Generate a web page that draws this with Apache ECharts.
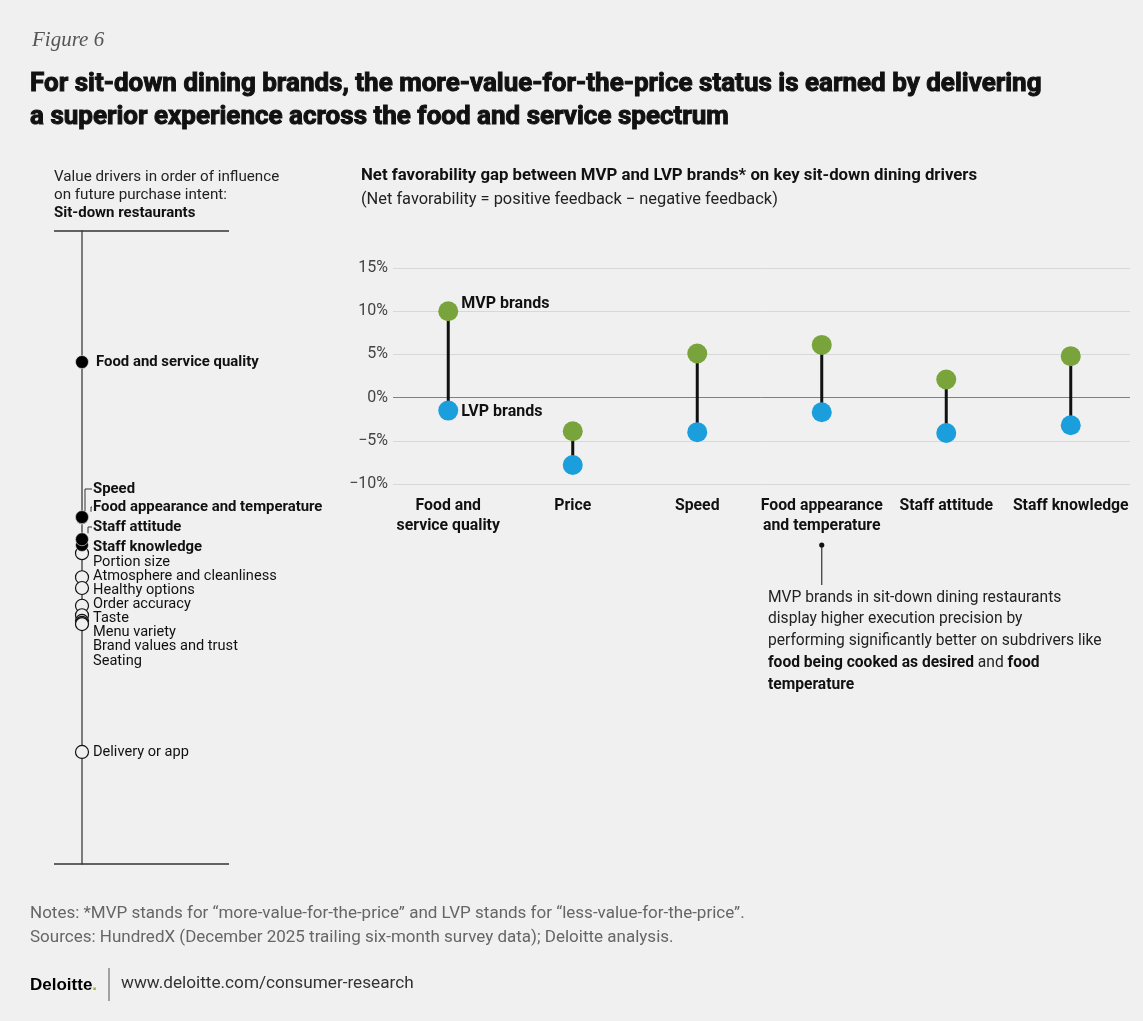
<!DOCTYPE html>
<html>
<head>
<meta charset="utf-8">
<script src="https://cdn.jsdelivr.net/npm/echarts@6/dist/echarts.min.js"></script>
<style>
  html, body { margin: 0; padding: 0; background: #f0f0f0; }
  #chart { width: 1143px; height: 1021px; }
</style>
</head>
<body>
<div id="chart"></div>
<script>
// Dumbbell categories and values (net favorability, %)
const categories = ['Food and\nservice quality', 'Price', 'Speed', 'Food appearance\nand temperature', 'Staff attitude', 'Staff knowledge'];
const mvpValues = [10.0, -3.9, 5.1, 6.1, 2.1, 4.8];
const lvpValues = [-1.5, -7.8, -4.0, -1.7, -4.1, -3.2];
const yTickLabels = ['\u221210%', '\u22125%', '0%', '5%', '10%', '15%'];

// Value drivers ranked by influence on future purchase intent
const drivers = ['Food and service quality', 'Speed', 'Food appearance and temperature', 'Staff attitude', 'Staff knowledge',
  'Portion size', 'Atmosphere and cleanliness', 'Healthy options', 'Order accuracy', 'Taste', 'Menu variety',
  'Brand values and trust', 'Seating', 'Delivery or app'];
const influence = [79.3, 54.8, 54.7, 51.3, 50.4, 49.1, 45.3, 43.6, 40.8, 39.3, 38.4, 38.1, 37.9, 17.7];

const FONT = "'Roboto', 'Liberation Sans', sans-serif";
const GREEN = '#79a43b';
const BLUE = '#1a9fdc';
const BG = '#f0f0f0';

const keyNames = categories.map(c => c.replace('\n', ' '));
const isKey = drivers.map(d => keyNames.indexOf(d) >= 0);

const chart = echarts.init(document.getElementById('chart'), null, { renderer: 'canvas' });

chart.setOption({
  backgroundColor: BG,
  animation: false,
  grid: [
    { left: 393, right: 13, top: 268, height: 216 },
    { left: 386, right: 10, top: 268, height: 216 },
    { left: 82, width: 100, top: 231, height: 633 }
  ],
  xAxis: [
    { gridIndex: 0, type: 'value', min: 0, max: 1, show: false },
    {
      gridIndex: 1, type: 'category', data: categories,
      axisLine: { show: false }, axisTick: { show: false },
      axisLabel: { interval: 0, margin: 12, fontFamily: FONT, fontWeight: 'bold', fontSize: 15.8, color: '#111', lineHeight: 20 }
    },
    { gridIndex: 2, type: 'value', min: 0, max: 1, show: false }
  ],
  yAxis: [
    {
      gridIndex: 0, type: 'value', min: -10, max: 15, interval: 5,
      axisLine: { show: false }, axisTick: { show: false },
      axisLabel: {
        margin: 5, fontFamily: FONT, fontSize: 16, color: '#444',
        formatter: (v) => yTickLabels[Math.round((v + 10) / 5)]
      },
      splitLine: { lineStyle: { color: ['#d8d8d8', '#d8d8d8', '#808080', '#d8d8d8', '#d8d8d8', '#d8d8d8'], width: 1 } }
    },
    { gridIndex: 1, type: 'value', min: -10, max: 15, interval: 5, show: false },
    {
      gridIndex: 2, type: 'value', min: 0, max: 100,
      axisLine: { show: true, lineStyle: { color: '#555', width: 1.5 } },
      axisTick: { show: false }, axisLabel: { show: false }, splitLine: { show: false }
    }
  ],
  series: [
    {
      type: 'custom', xAxisIndex: 1, yAxisIndex: 1, z: 2,
      data: categories.map((c, i) => [i, mvpValues[i], lvpValues[i]]),
      encode: { x: 0, y: [1, 2] },
      renderItem: (params, api) => {
        const a = api.coord([api.value(0), api.value(1)]);
        const b = api.coord([api.value(0), api.value(2)]);
        return { type: 'line', shape: { x1: a[0], y1: a[1], x2: b[0], y2: b[1] }, style: { stroke: '#111', lineWidth: 3 } };
      }
    },
    {
      name: 'MVP brands', type: 'scatter', xAxisIndex: 1, yAxisIndex: 1, z: 3,
      symbolSize: 20, itemStyle: { color: GREEN, opacity: 1 },
      data: mvpValues.map((v, i) => ({
        value: v,
        label: i === 0 ? { show: true, position: 'right', distance: 3, offset: [0, -7], formatter: 'MVP brands',
          fontFamily: FONT, fontWeight: 'bold', fontSize: 16, color: '#111' } : { show: false }
      }))
    },
    {
      name: 'LVP brands', type: 'scatter', xAxisIndex: 1, yAxisIndex: 1, z: 3,
      symbolSize: 20, itemStyle: { color: BLUE, opacity: 1 },
      data: lvpValues.map((v, i) => ({
        value: v,
        label: i === 0 ? { show: true, position: 'right', distance: 3, offset: [0, 1], formatter: 'LVP brands',
          fontFamily: FONT, fontWeight: 'bold', fontSize: 16, color: '#111' } : { show: false }
      }))
    },
    {
      type: 'scatter', xAxisIndex: 2, yAxisIndex: 2, z: 3, symbolSize: 13,
      itemStyle: { color: BG, borderColor: '#111', borderWidth: 1.2, opacity: 1 },
      data: drivers.map((d, i) => isKey[i] ? null : [0, influence[i]]).filter(Boolean)
    },
    {
      type: 'scatter', xAxisIndex: 2, yAxisIndex: 2, z: 4, symbolSize: 13,
      itemStyle: { color: '#000', borderColor: BG, borderWidth: 0.6, opacity: 1 },
      data: drivers.map((d, i) => isKey[i] ? [0, influence[i]] : null).filter(Boolean).reverse()
    }
  ]
});

// ---- Text, rules and annotations ----
function txt(text, x, y, size, opts) {
  opts = opts || {};
  return {
    type: 'text', silent: true, z: 10,
    style: Object.assign({
      text: text, x: x, y: y, fontFamily: FONT, fontSize: size,
      fontWeight: opts.bold ? 'bold' : 'normal', fill: opts.color || '#222',
      textAlign: opts.align || 'left', textVerticalAlign: 'middle'
    }, opts.style || {})
  };
}
function line(x1, y1, x2, y2, color, width) {
  return { type: 'line', silent: true, z: 9, shape: { x1, y1, x2, y2 }, style: { stroke: color, lineWidth: width } };
}

const g = [];

// Headline
g.push(txt('Figure 6', 32, 40, 21, { color: '#555', style: { fontFamily: "'Liberation Serif', serif", fontStyle: 'italic' } }));
g.push(txt('For sit-down dining brands, the more-value-for-the-price status is earned by delivering', 30, 84, 26,
  { bold: true, color: '#111', style: { stroke: '#111', lineWidth: 1 } }));
g.push(txt('a superior experience across the food and service spectrum', 30, 117, 26,
  { bold: true, color: '#111', style: { stroke: '#111', lineWidth: 1 } }));

// Left panel header
g.push(txt('Value drivers in order of influence', 54, 177, 15.2));
g.push(txt('on future purchase intent:', 54, 195, 15.2));
g.push(txt('Sit-down restaurants', 54, 213, 15, { bold: true, color: '#111' }));
g.push(line(54, 231, 229, 231, '#333', 1.5));
g.push(line(54, 864, 229, 864, '#333', 1.5));

// Left panel labels (stacked to avoid overlap)
const labelY = [362, 489, 507, 527, 547, 562, 576, 590, 604, 618, 632, 646, 661, 752];
drivers.forEach((d, i) => {
  const x = i === 0 ? 96 : 93;
  g.push(txt(d, x, labelY[i], isKey[i] ? 14.9 : 14.6, { bold: isKey[i], color: '#111' }));
});
// Leader lines for labels that sit above their dots
const leaderX = { 1: 85, 2: 91, 3: 88 };
Object.keys(leaderX).forEach(k => {
  const i = +k;
  const p = chart.convertToPixel({ xAxisIndex: 2, yAxisIndex: 2 }, [0, influence[i]]);
  const x = leaderX[k];
  g.push({
    type: 'polyline', silent: true, z: 9,
    shape: { points: [[x, p[1] - 6], [x, labelY[i]], [92, labelY[i]]] },
    style: { stroke: '#333', lineWidth: 1, fill: null }
  });
});

// Right panel heading
g.push(txt('Net favorability gap between MVP and LVP brands* on key sit-down dining drivers', 361, 176, 16.8, { bold: true, color: '#111' }));
g.push(txt('(Net favorability = positive feedback \u2212 negative feedback)', 361, 200, 16.4, { color: '#222' }));

// Callout for food appearance and temperature
const ax = chart.convertToPixel({ xAxisIndex: 1 }, categories[3]);
g.push({ type: 'circle', silent: true, z: 10, shape: { cx: ax, cy: 545, r: 2.6 }, style: { fill: '#111' } });
g.push(line(ax, 545, ax, 585, '#333', 1.2));
g.push({
  type: 'text', silent: true, z: 10,
  style: {
    x: 768, y: 587, fontFamily: FONT, fontSize: 15.6, fill: '#222', lineHeight: 21.7,
    text: 'MVP brands in sit-down dining restaurants\ndisplay higher execution precision by\nperforming significantly better on subdrivers like\n{b|food being cooked as desired} and {b|food}\n{b|temperature}',
    rich: { b: { fontFamily: FONT, fontSize: 15.6, fontWeight: 'bold', fill: '#111', lineHeight: 21.7 } }
  }
});

// Footer
g.push(txt('Notes: *MVP stands for \u201cmore-value-for-the-price\u201d and LVP stands for \u201cless-value-for-the-price\u201d.', 30, 914, 17, { color: '#666' }));
g.push(txt('Sources: HundredX (December 2025 trailing six-month survey data); Deloitte analysis.', 30, 938, 17, { color: '#666' }));
g.push({
  type: 'text', silent: true, z: 10,
  style: {
    x: 30, y: 985, textVerticalAlign: 'middle', text: '{d|Deloitte}{g|.}',
    rich: {
      d: { fontFamily: "'Liberation Sans', Arial, sans-serif", fontWeight: 'bold', fontSize: 17, fill: '#000' },
      g: { fontFamily: "'Liberation Sans', Arial, sans-serif", fontWeight: 'bold', fontSize: 17, fill: '#86bc25' }
    }
  }
});
g.push(line(109, 968, 109, 1001, '#555', 1));
g.push(txt('www.deloitte.com/consumer-research', 121, 984, 17.2, { color: '#333' }));

chart.setOption({ graphic: g });
</script>
</body>
</html>
